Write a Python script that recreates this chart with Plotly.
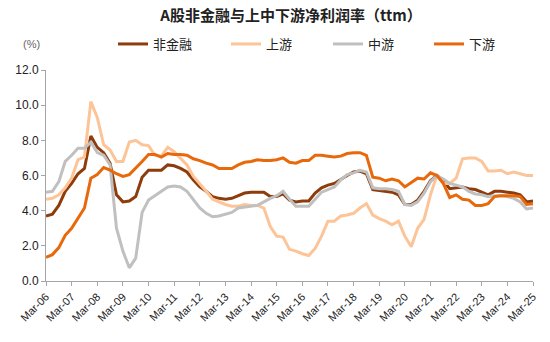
import plotly.graph_objects as go

quarters = [f"{m}-{y:02d}" for y in range(6, 26) for m in ["Mar", "Jun", "Sep", "Dec"]][:77]
tick_labels = [f"Mar-{y:02d}" for y in range(6, 26)]

non_fin = [3.7, 3.8, 4.3, 5.1, 5.55, 6.1, 6.4, 8.25, 7.6, 7.3, 6.7, 4.9, 4.5, 4.55, 4.8, 5.9,
           6.3, 6.3, 6.3, 6.6, 6.55, 6.4, 6.2, 5.75, 5.35, 5.1, 4.8, 4.7, 4.65, 4.7, 4.85, 5.0,
           5.05, 5.05, 5.05, 4.8, 4.8, 4.95, 4.6, 4.5, 4.55, 4.55, 5.0, 5.3, 5.45, 5.55, 5.8, 6.0,
           6.2, 6.25, 6.1, 5.2, 5.15, 5.1, 5.05, 4.9, 4.35, 4.35, 4.6, 5.1, 5.7, 6.0, 5.7, 5.25,
           5.3, 5.35, 5.25, 5.2, 5.05, 4.9, 5.1, 5.1, 5.05, 5.0, 4.9, 4.5, 4.55]
upstream = [4.65, 4.7, 4.9, 5.3, 5.85, 6.9, 7.05, 10.2, 9.3, 7.75, 7.45, 6.8, 6.8, 7.9, 8.0, 7.75,
            7.7, 7.15, 7.1, 7.6, 7.35, 7.0, 6.6, 5.95, 5.55, 5.1, 4.65, 4.5, 4.35, 4.25, 4.25, 4.35,
            4.3, 4.3, 4.15, 3.1, 2.55, 2.5, 1.8, 1.7, 1.55, 1.45, 1.85, 2.55, 3.4, 3.4, 3.7, 3.75,
            3.85, 4.15, 4.4, 3.75, 3.55, 3.4, 3.2, 3.4, 2.55, 1.95, 3.0, 3.5, 4.9, 6.0, 5.55, 5.55,
            5.85, 6.95, 7.0, 7.0, 6.8, 6.25, 6.25, 6.3, 6.1, 6.2, 6.1, 6.0, 6.0]
midstream = [5.05, 5.1, 5.65, 6.8, 7.15, 7.55, 7.55, 7.9, 7.3, 7.15, 6.6, 3.0, 1.7, 0.75, 1.3, 3.9,
             4.6, 4.85, 5.1, 5.35, 5.4, 5.35, 5.1, 4.6, 4.15, 3.85, 3.65, 3.7, 3.8, 3.9, 4.15, 4.2,
             4.25, 4.3, 4.5, 4.7, 4.85, 5.1, 4.65, 4.25, 4.25, 4.25, 4.65, 5.05, 5.2, 5.35, 5.75, 6.05,
             6.15, 6.3, 6.2, 5.3, 5.25, 5.25, 5.2, 5.1, 4.35, 4.3, 4.5, 5.0, 5.65, 6.0, 5.8, 5.55,
             5.45, 5.35, 5.1, 4.95, 4.9, 4.8, 4.85, 4.85, 4.8, 4.7, 4.5, 4.1, 4.15]
downstream = [1.35, 1.5, 1.9, 2.6, 3.0, 3.55, 4.15, 5.85, 6.05, 6.45, 6.3, 6.1, 5.95, 6.05, 6.4, 6.8,
              7.2, 7.2, 7.05, 7.25, 7.2, 7.2, 7.15, 6.95, 6.85, 6.7, 6.6, 6.4, 6.4, 6.4, 6.6, 6.75,
              6.8, 6.9, 6.85, 6.85, 6.9, 7.0, 6.75, 6.7, 6.85, 6.85, 7.15, 7.15, 7.1, 7.05, 7.1, 7.25,
              7.3, 7.3, 7.15, 5.9, 5.85, 5.7, 5.8, 5.7, 5.35, 5.6, 5.85, 5.8, 6.15, 6.0, 5.55, 4.75,
              4.9, 4.65, 4.6, 4.3, 4.3, 4.4, 4.8, 4.85, 4.85, 4.85, 4.8, 4.35, 4.4]

series = [
    ("非金融", non_fin, "#8E3C0C", "legend", 113),
    ("上游", upstream, "#FDC497", "legend2", 226),
    ("中游", midstream, "#C0C0C0", "legend3", 328),
    ("下游", downstream, "#E8690B", "legend4", 429),
]

W, H = 550, 342
ML, MR, MT, MB = 46, 17, 70, 61
fig = go.Figure()
legends = {}
for name, vals, color, lg, lx in series:
    fig.add_trace(go.Scatter(x=quarters, y=vals, name=name, mode="lines",
                             line=dict(color=color, width=3), legend=lg))
    legends[lg] = dict(xref="container", yref="container", x=lx / W, y=1 - 44 / H,
                       xanchor="left", yanchor="middle", orientation="h",
                       bgcolor="rgba(0,0,0,0)", borderwidth=0,
                       font=dict(family="Noto Sans CJK SC", size=13, color="#222"))

axis_color = "#A6A6A6"
fig.update_layout(
    width=W, height=H,
    margin=dict(l=ML, r=MR, t=MT, b=MB, autoexpand=False),
    paper_bgcolor="white", plot_bgcolor="white",
    title=dict(text="<b>A股非金融与上中下游净利润率（ttm）</b>", xref="container", yref="container",
               x=291 / W, y=1 - 16 / H, xanchor="center", yanchor="middle",
               font=dict(family="Noto Sans CJK SC", size=15, color="#222")),
    showlegend=True,
    **legends,
    xaxis=dict(type="category", categoryorder="array", categoryarray=quarters,
               range=[0, 76], tickmode="array", tickvals=tick_labels, ticktext=tick_labels,
               tickangle=-45, showgrid=False, zeroline=False, automargin=False,
               showline=True, linecolor=axis_color, linewidth=1,
               ticks="outside", ticklen=4, tickcolor=axis_color,
               tickfont=dict(family="Liberation Sans, Arial", size=11, color="#222")),
    yaxis=dict(range=[0, 12], tickvals=[0, 2, 4, 6, 8, 10, 12], tickformat=".1f",
               showgrid=False, zeroline=False, automargin=False,
               showline=True, linecolor=axis_color, linewidth=1,
               ticks="outside", ticklen=4, tickcolor=axis_color,
               tickfont=dict(family="Liberation Sans, Arial", size=12, color="#222")),
    annotations=[dict(text="(%)", xref="paper", yref="paper",
                      x=(31 - ML) / (W - ML - MR), y=1 + (MT - 44) / (H - MT - MB),
                      showarrow=False, xanchor="center", yanchor="middle",
                      font=dict(family="Liberation Sans, Arial", size=11, color="#666"))],
)

fig.write_html("out.html")
